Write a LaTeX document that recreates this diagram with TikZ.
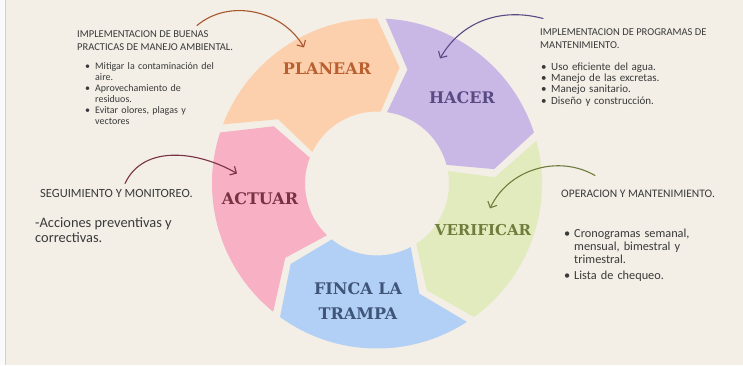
\documentclass[tikz,border=0pt]{standalone}
\usepackage{fontspec}
\setmainfont{Carlito}
\newfontfamily\segfont{DejaVu Serif}
\usepackage{tikz}
\usetikzlibrary{arrows.meta,calc,positioning}

\definecolor{paper}{RGB}{243,238,230}
\definecolor{ink}{RGB}{58,58,58}
\definecolor{planearfill}{RGB}{252,208,172}
\definecolor{hacerfill}{RGB}{201,183,230}
\definecolor{verifill}{RGB}{226,235,190}
\definecolor{fincafill}{RGB}{178,207,245}
\definecolor{actuarfill}{RGB}{247,176,196}
\definecolor{planeartext}{RGB}{186,96,48}
\definecolor{hacertext}{RGB}{88,74,130}
\definecolor{veritext}{RGB}{110,125,60}
\definecolor{fincatext}{RGB}{62,84,120}
\definecolor{actuartext}{RGB}{120,50,66}

% item con vineta y sangria colgante
\newcommand{\notaitem}[2][10pt]{\par\hangindent=#1\hangafter=1\noindent\makebox[#1][l]{\textbullet}#2\par}

\begin{document}
\begin{tikzpicture}[x=1pt, y=1pt]
        \tikzset{note/.style={inner sep=0pt, text=ink, align=left}}
        \tikzset{seglabel/.style={font=\segfont\bfseries\fontsize{16}{25}\selectfont, align=center, inner sep=0pt}}
        \tikzset{hook/.style={line width=1.1pt, line cap=round, -{Straight Barb[length=5pt,width=10pt]}}}

        \fill[paper] (0,0) rectangle (743,365);
        \fill[black!2] (0,0) rectangle (5,365);
        \draw[line width=1pt, black!18] (5.5,0) -- (5.5,365);
        \useasboundingbox (0,0) rectangle (743,365);

        % anillo de cinco flechas
        \coordinate (C) at (377,182);
        \foreach \tail/\col in {151/planearfill, 79/hacerfill, 7/verifill, -65/fincafill, -137/actuarfill} {
            \pgfmathsetmacro{\head}{\tail-72}
            \fill[\col] ($(C)+({\tail+8}:165pt)$) arc[start angle=\tail+8, end angle=\head+11, radius=165pt]
                -- ($(C)+({\head}:118pt)$) -- ($(C)+({\head+8}:72pt)$)
                arc[start angle=\head+8, end angle=\tail+3, radius=72pt]
                -- ($(C)+({\tail-4}:118pt)$) -- cycle;
        }

        \node [seglabel, text=planeartext] (planear) at (327,297) {PLANEAR};
        \node [seglabel, text=hacertext] (hacer) at (462,268) {HACER};
        \node [seglabel, text=veritext, font=\segfont\bfseries\fontsize{15}{20}\selectfont] (verificar) at (483,135) {VERIFICAR};
        \node [seglabel, text=fincatext] (finca) at (358,64) {FINCA LA\\TRAMPA};
        \node [seglabel, text=actuartext] (actuar) at (260,167) {ACTUAR};

        % notas
        \node [note, anchor=west, font=\fontsize{10.5}{13}\selectfont] (tbuenas) at (77,324.5)
            {IMPLEMENTACION DE BUENAS\\PRACTICAS DE MANEJO AMBIENTAL.};
        \node [note, text width=150pt, font=\fontsize{10}{11}\selectfont, below right=7pt and 8pt of tbuenas.south west] (lbuenas)
            {\notaitem{Mitigar la contaminación del\newline aire.}\notaitem{Aprovechamiento de\newline residuos.}\notaitem{Evitar olores, plagas y\newline vectores}};

        \node [note, anchor=west, font=\fontsize{10.5}{13}\selectfont] (tprog) at (540,326.5)
            {IMPLEMENTACION DE PROGRAMAS DE\\MANTENIMIENTO.};
        \node [note, text width=150pt, font=\fontsize{11}{11.2}\selectfont, below right=10pt and 1pt of tprog.south west] (lprog)
            {\notaitem{Uso eficiente del agua.}\notaitem{Manejo de las excretas.}\notaitem{Manejo sanitario.}\notaitem{Diseño y construcción.}};

        \node [note, anchor=west, font=\fontsize{12.5}{14}\selectfont] (tseg) at (40,172) {SEGUIMIENTO Y MONITOREO.};
        \node [note, anchor=west, font=\fontsize{14.4}{15}\selectfont] (lseg) at (35,135.5) {-Acciones preventivas y\\correctivas.};

        \node [note, anchor=west, font=\fontsize{11.5}{13}\selectfont] (toper) at (561,172) {OPERACION Y MANTENIMIENTO.};
        \node [note, text width=160pt, font=\fontsize{12.3}{13}\selectfont, below right=27pt and 3pt of toper.south west] (loper)
            {\notaitem[10pt]{Cronogramas semanal,\newline mensual, bimestral y\newline trimestral.}\vspace{3pt}\notaitem[10pt]{Lista de chequeo.}};

        % flechas a mano
        \coordinate (p1) at (197,340);  \coordinate (p1e) at (304,318);
        \coordinate (p2) at (543,347);  \coordinate (p2e) at (440,307);
        \coordinate (p3) at (125,182);  \coordinate (p3e) at (237,192);
        \coordinate (p4) at (595,190);  \coordinate (p4e) at (490,157);
        \draw [hook, planeartext!90!black] (p1) to[out=40, in=120] (p1e);
        \draw [hook, hacertext] (p2) to[out=165, in=60] (p2e);
        \draw [hook, actuartext] (p3) to[out=65, in=150] (p3e);
        \draw [hook, veritext] (p4) to[out=150, in=65] (p4e);

    \end{tikzpicture}
\end{document}
